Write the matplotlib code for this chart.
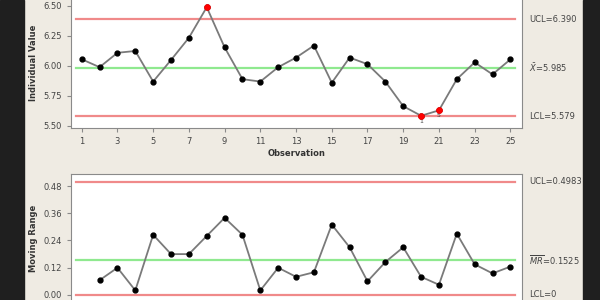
import matplotlib.pyplot as plt
import numpy as np

# I-MR chart, values
observation = list(range(1, 26))
individual = [6.056, 5.99, 6.11, 6.125, 5.87, 6.05, 6.235, 6.49, 6.155, 5.89,
              5.87, 5.99, 6.07, 6.17, 5.86, 6.07, 6.015, 5.87, 5.665, 5.585,
              5.63, 5.89, 6.03, 5.93, 6.055]
moving_range = [np.nan, 0.065, 0.12, 0.02, 0.265, 0.18, 0.18, 0.26, 0.34, 0.265,
                0.02, 0.12, 0.08, 0.10, 0.31, 0.21, 0.06, 0.145, 0.21, 0.08,
                0.045, 0.27, 0.135, 0.095, 0.125]
i_limits = {"UCL": 6.390, "center": 5.985, "LCL": 5.579}
mr_limits = {"UCL": 0.4983, "center": 0.1525, "LCL": 0.0}
i_labels = ["UCL=6.390", r"$\bar{X}$=5.985", "LCL=5.579"]
mr_labels = ["UCL=0.4983", r"$\overline{MR}$=0.1525", "LCL=0"]
flagged = [8, 20, 21]
flag_text = {20: "1", 21: "5"}

i_ticks = [5.50, 5.75, 6.00, 6.25, 6.50]
mr_ticks = [0.00, 0.12, 0.24, 0.36, 0.48]
x_ticks = list(range(1, 26, 2))

bg = "#efebe3"
red = "#f08a8a"
green = "#8fe98f"

fig = plt.figure(figsize=(6, 3), dpi=100)
fig.patch.set_facecolor(bg)
# dark frame on the sides
fig.patches.append(plt.Rectangle((0, 0), 0.04, 1, transform=fig.transFigure, color="#1f1f1f", zorder=0))
fig.patches.append(plt.Rectangle((0.972, 0), 0.03, 1, transform=fig.transFigure, color="#1f1f1f", zorder=0))

ax1 = fig.add_axes([71 / 600, 1 - 128 / 300, 451 / 600, 131 / 300])
ax2 = fig.add_axes([71 / 600, -2 / 300, 451 / 600, 128 / 300])


def style(ax):
    ax.set_facecolor("white")
    for s in ax.spines.values():
        s.set_color("#8a8a8a")
    ax.tick_params(colors="#8a8a8a", labelcolor="#444444", labelsize=6, length=3, width=0.8)
    ax.set_xlim(0.4, 25.65)
    ax.set_xticks(x_ticks)


def limits(ax, lim, labels):
    for key, lab in zip(["UCL", "center", "LCL"], labels):
        ax.axhline(lim[key], color=green if key == "center" else red, lw=1.6, zorder=1,
                   xmin=0.012, xmax=0.985)
        ax.annotate(lab, xy=(1.015, lim[key]), xycoords=("axes fraction", "data"),
                    va="center", ha="left", fontsize=6, color="#444444", annotation_clip=False)


# individuals
style(ax1)
ax1.set_ylim(5.483, 6.575)
ax1.set_yticks(i_ticks)
ax1.set_yticklabels([f"{t:.2f}" for t in i_ticks])
limits(ax1, i_limits, i_labels)
ax1.plot(observation, individual, color="#7a7a7a", lw=1.3, zorder=2)
ax1.plot(observation, individual, "o", color="black", ms=3.5, zorder=3)
for obs in flagged:
    y = individual[obs - 1]
    ax1.plot(obs, y, "o", color="red", ms=3.8, zorder=4)
    if obs in flag_text:
        ax1.text(obs, y - 0.045, flag_text[obs], fontsize=4.5, color="#444444",
                 ha="center", va="center", clip_on=False)
ax1.set_ylabel("Individual Value", fontsize=6, fontweight="bold", color="#333333", labelpad=4)
ax1.set_xlabel("Observation", fontsize=6, fontweight="bold", color="#333333", labelpad=2)

# moving range
style(ax2)
ax2.set_ylim(-0.031, 0.533)
ax2.set_yticks(mr_ticks)
ax2.set_yticklabels([f"{t:.2f}" for t in mr_ticks])
ax2.tick_params(axis="x", labelbottom=False)
limits(ax2, mr_limits, mr_labels)
ax2.plot(observation, moving_range, color="#7a7a7a", lw=1.3, zorder=2)
ax2.plot(observation, moving_range, "o", color="black", ms=3.5, zorder=3)
ax2.set_ylabel("Moving Range", fontsize=6, fontweight="bold", color="#333333", labelpad=4)

fig.savefig("out.png", dpi=100, facecolor=fig.get_facecolor())
